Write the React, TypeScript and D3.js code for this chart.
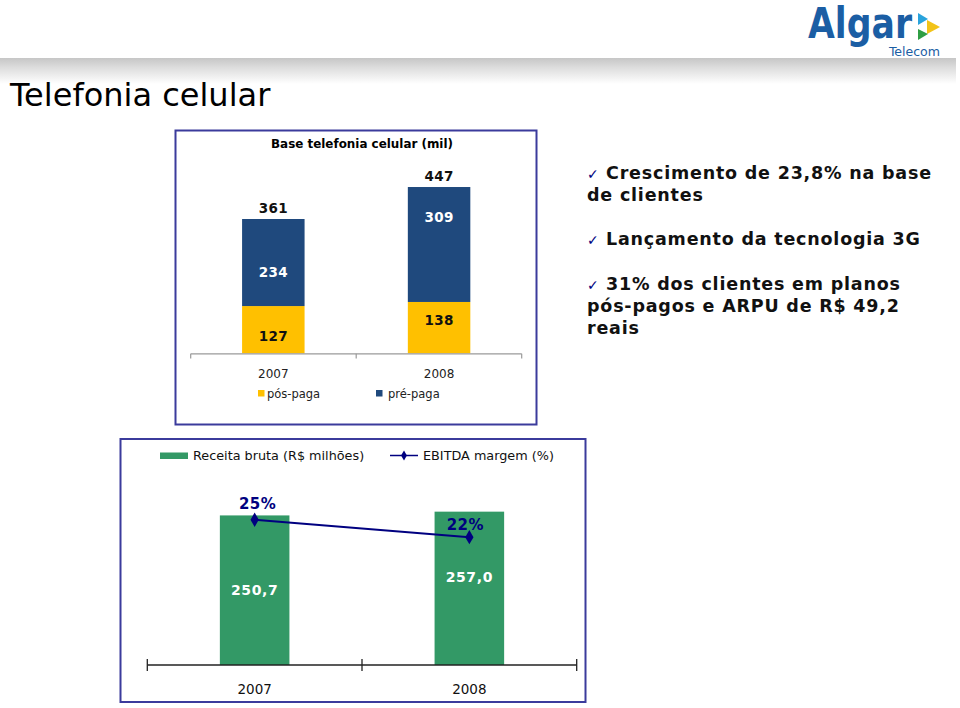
import React from "react";
import * as d3 from "d3";

// ---- data ----
const years = ["2007", "2008"];
const posPaga = [127, 138];
const prePaga = [234, 309];
const receita = [250.7, 257.0];
const ebitda = [25, 22];
const bullets = [
  ["Crescimento de 23,8% na base", "de clientes"],
  ["Lançamento da tecnologia 3G"],
  ["31% dos clientes em planos", "pós-pagos e ARPU de R$ 49,2", "reais"],
];

// label nudges (px) relative to segment centres, as laid out in the source slide
const preNudge = [9, -27];
const posNudge = [6, -8];
const recNudge = [0, -11];

const FONT = "'DejaVu Sans', Verdana, sans-serif";

export default function App() {
  // ---- top stacked chart ----
  const xTop = d3.scaleBand<string>().domain(years).range([190.7, 521.7]).paddingInner(0.623).paddingOuter(0.31);
  const yTop = d3.scaleLinear().domain([0, 500]).range([353.3, 167.3]);
  const totals = years.map((_, i) => posPaga[i] + prePaga[i]);
  const topTicks = [xTop.range()[0], (xTop.range()[0] + xTop.range()[1]) / 2, xTop.range()[1]];

  // ---- bottom combo chart ----
  const xBot = d3.scaleBand<string>().domain(years).range([147.3, 576.7]).paddingInner(0.676).paddingOuter(0.338);
  const yBot = d3.scaleLinear().domain([0, 300]).range([665, 486]);
  const yPct = d3.scaleLinear().domain([0, 30.8]).range([665, 486]);
  const botTicks = [xBot.range()[0], (xBot.range()[0] + xBot.range()[1]) / 2, xBot.range()[1]];
  const line = d3
    .line<number>()
    .x((_, i) => (xBot(years[i]) as number) + xBot.bandwidth() / 2)
    .y((d) => yPct(d));
  const fmtRec = (v: number) => d3.format(".1f")(v).replace(".", ",");
  const diamond = d3.symbol(d3.symbolDiamond, 60)() as string;
  const diamondSmall = d3.symbol(d3.symbolDiamond, 30)() as string;

  const baselines = [[179, 200.5], [245], [289.5, 312, 334]];

  return (
    <svg width={960} height={708} style={{ position: "absolute", left: 0, top: 0, background: "#fff" }} fontFamily={FONT}>
      <defs>
        <linearGradient id="band" x1="0" y1="0" x2="0" y2="1">
          <stop offset="0" stopColor="#c6c6c6" />
          <stop offset="0.35" stopColor="#dcdcdc" />
          <stop offset="1" stopColor="#ffffff" />
        </linearGradient>
      </defs>
      <rect x={0} y={0} width={960} height={708} fill="#fff" />

      {/* header band */}
      <rect x={0} y={58} width={956} height={26} fill="url(#band)" />
      <text x={10} y={106} fontSize={32} fill="#000" fontFamily={FONT}>Telefonia celular</text>

      {/* logo */}
      <g>
        <text x={808} y={38} fontSize={42} fontWeight="bold" fill="#1b5ea4" fontFamily="'DejaVu Sans Condensed', 'DejaVu Sans', sans-serif" textLength={104} lengthAdjust="spacingAndGlyphs">Algar</text>
        <text x={889} y={56} fontSize={13} fill="#1b5ea4" fontFamily="'DejaVu Sans Condensed', 'DejaVu Sans', sans-serif" textLength={51} lengthAdjust="spacingAndGlyphs">Telecom</text>
        <path d="M918,13 L928,19 L918,25 Z" fill="#29a3dc" />
        <path d="M927,20 L940,27 L927,34 Z" fill="#f2c318" />
        <path d="M918,29 L928,34 L918,40 Z" fill="#2f9e44" />
      </g>

      {/* ---- top chart box ---- */}
      <rect x={175.5} y={130.5} width={361} height={294} fill="#fff" stroke="#3b3b9c" strokeWidth={2} />
      <text x={362} y={147.5} textAnchor="middle" fontSize={11.5} fontWeight="bold" fontFamily="Tahoma, 'DejaVu Sans Condensed', sans-serif" textLength={182} lengthAdjust="spacingAndGlyphs">Base telefonia celular (mil)</text>

      {years.map((yr, i) => {
        const x = xTop(yr) as number;
        const w = xTop.bandwidth();
        const cx = x + w / 2;
        const yPos = yTop(posPaga[i]);
        const yTot = yTop(totals[i]);
        return (
          <g key={yr}>
            <rect x={x} y={yPos} width={w} height={yTop(0) - yPos} fill="#ffc000" />
            <rect x={x} y={yTot} width={w} height={yPos - yTot} fill="#1f497d" />
            <text x={cx} y={yTot - 6.5} textAnchor="middle" fontSize={13.5} fontWeight="bold" fill="#111" letterSpacing={0.3}>{totals[i]}</text>
            <text x={cx} y={(yTot + yPos) / 2 + preNudge[i] + 5} textAnchor="middle" fontSize={13.5} fontWeight="bold" fill="#fff" letterSpacing={0.3}>{prePaga[i]}</text>
            <text x={cx} y={(yPos + yTop(0)) / 2 + posNudge[i] + 5} textAnchor="middle" fontSize={13.5} fontWeight="bold" fill="#111" letterSpacing={0.3}>{posPaga[i]}</text>
            <text x={cx} y={377.5} textAnchor="middle" fontSize={12} fill="#222">{yr}</text>
          </g>
        );
      })}
      <line x1={topTicks[0]} x2={topTicks[2]} y1={353.8} y2={353.8} stroke="#9a9a9a" strokeWidth={1.2} />
      {topTicks.map((t, i) => (
        <line key={i} x1={t} x2={t} y1={353.8} y2={358.5} stroke="#9a9a9a" strokeWidth={1.2} />
      ))}
      {/* top legend */}
      <rect x={258} y={390} width={6.5} height={6.5} fill="#ffc000" />
      <text x={267} y={398} fontSize={11.5} fill="#222">pós-paga</text>
      <rect x={376} y={390} width={6.5} height={6.5} fill="#1f497d" />
      <text x={388} y={398} fontSize={11.5} fill="#222">pré-paga</text>

      {/* ---- bullets ---- */}
      {bullets.map((b, bi) =>
        b.map((ln, li) => (
          <g key={bi + "-" + li}>
            {li === 0 && (
              <text x={587} y={baselines[bi][li]} fontSize={14} fill="#000080">✓</text>
            )}
            <text x={li === 0 ? 606 : 587} y={baselines[bi][li]} fontSize={17.5} fontWeight="bold" fill="#111" letterSpacing={0.8}>{ln}</text>
          </g>
        ))
      )}

      {/* ---- bottom chart box ---- */}
      <rect x={120.5} y={439} width={465} height={263} fill="#fff" stroke="#3b3b9c" strokeWidth={2} />
      <rect x={160} y={452.5} width={28} height={6.5} fill="#339966" />
      <text x={193} y={460} fontSize={12.8} fill="#111">Receita bruta (R$ milhões)</text>
      <line x1={390} x2={418} y1={455.5} y2={455.5} stroke="#000080" strokeWidth={1.5} />
      <path d={diamondSmall} transform="translate(404,455.5)" fill="#000080" />
      <text x={423} y={460} fontSize={12.8} fill="#111">EBITDA margem (%)</text>

      {years.map((yr, i) => {
        const x = xBot(yr) as number;
        const w = xBot.bandwidth();
        const cx = x + w / 2;
        const yv = yBot(receita[i]);
        return (
          <g key={yr}>
            <rect x={x} y={yv} width={w} height={yBot(0) - yv} fill="#339966" />
            <text x={cx} y={(yv + yBot(0)) / 2 + recNudge[i] + 5} textAnchor="middle" fontSize={14} fontWeight="bold" fill="#fff" letterSpacing={0.6}>{fmtRec(receita[i])}</text>
            <text x={cx} y={694} textAnchor="middle" fontSize={13.5} fill="#111">{yr}</text>
          </g>
        );
      })}
      <line x1={botTicks[0]} x2={botTicks[2]} y1={665} y2={665} stroke="#222" strokeWidth={1.3} />
      {botTicks.map((t, i) => (
        <line key={i} x1={t} x2={t} y1={659} y2={671} stroke="#222" strokeWidth={1.3} />
      ))}
      <path d={line(ebitda) as string} fill="none" stroke="#000080" strokeWidth={2} />
      {ebitda.map((v, i) => {
        const cx = (xBot(years[i]) as number) + xBot.bandwidth() / 2;
        const cy = yPct(v);
        return (
          <g key={i}>
            <path d={diamond} transform={`translate(${cx},${cy})`} fill="#000080" />
            <text x={cx + (i === 0 ? 3 : -4)} y={cy - (i === 0 ? 11 : 7.5)} textAnchor="middle" fontSize={15} fontWeight="bold" fill="#000080" letterSpacing={0.5}>{v}%</text>
          </g>
        );
      })}
    </svg>
  );
}
